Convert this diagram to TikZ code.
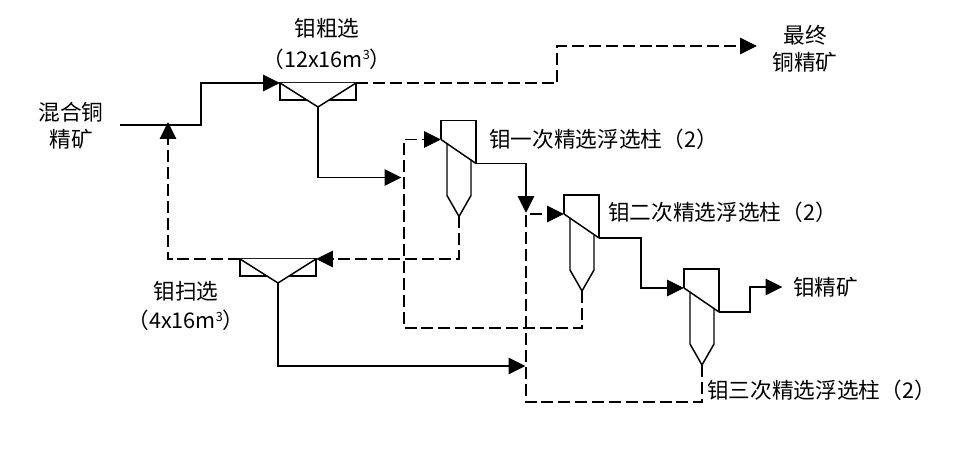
\documentclass[tikz,border=0pt]{standalone}
\usepackage{fontspec}
\setmainfont{Noto Sans CJK SC}
\usetikzlibrary{positioning,arrows.meta}

\newcommand{\cubesup}{\raisebox{5.5pt}{\fontsize{9pt}{9pt}\selectfont 3}}

\tikzset{
    flow/.style={line width=1.05pt},
    reflux/.style={line width=1.05pt, dash pattern=on 8.5pt off 3.5pt},
    tip/.style={-{Triangle[length=12pt,width=11.6pt]}},
    label/.style={inner sep=0pt, align=center, font=\fontsize{15.4pt}{19pt}\selectfont},
    sidelabel/.style={label, anchor=west},
    flotcell/.pic={
        \draw[flow] (-38,0) rectangle (38,17);
        \draw[flow, fill=white] (-38,0) -- (0,24) -- (38,0);
        \coordinate (-in) at (-38,0);
        \coordinate (-over) at (38,0);
        \coordinate (-tail) at (0,24);
    },
    flotcolumn/.pic={
        \draw[flow] (0,19) -- (0,0) -- (35,0) -- (35,43);
        \draw[flow] (6,23) -- (6,75) -- (18,96) -- (30,75) -- (30,39);
        \draw[flow] (0,19) -- (35,43);
        \coordinate (-in) at (0,19);
        \coordinate (-out) at (35,43);
        \coordinate (-tail) at (18,96);
    },
}

\begin{document}
\begin{tikzpicture}[x=0.025cm, y=-0.025cm]
    \useasboundingbox (0,0) rectangle (960,451);

    \pic (rough) at (318,83) {flotcell};
    \pic (scav) at (278,259) {flotcell};
    \pic (colone) at (441,120.5) {flotcolumn};
    \pic (coltwo) at (564,195) {flotcolumn};
    \pic (colthree) at (684,269) {flotcolumn};

    \node[label] (feedlabel) at (71,126) {混合铜\\精矿};
    \node[label] (roughlabel) at (327,44) {钼粗选\\[3pt]（12x16m\cubesup）};
    \node[label] (scavlabel) at (186,306) {钼扫选\\[2pt]（4x16m\cubesup）};
    \node[label] (conclabel) at (805,49) {最终\\铜精矿};
    \node[sidelabel] (colonelabel) at (489,139) {钼一次精选浮选柱（2）};
    \node[sidelabel] (coltwolabel) at (608,212) {钼二次精选浮选柱（2）};
    \node[sidelabel] (colthreelabel) at (707,390) {钼三次精选浮选柱（2）};
    \node[sidelabel] (molabel) at (793,287) {钼精矿};

    \coordinate (feedstart) at (120,125);
    \coordinate (feedjoin) at (168,122);
    \coordinate (topbend) at (557,46);
    \coordinate (topend) at (757,46);
    \coordinate (jointone) at (401.5,177.5);
    \coordinate (bendone) at (404,328);
    \coordinate (jointtwo) at (526,213);
    \coordinate (bendtwo) at (526,402);
    \coordinate (jointthree) at (525.5,366);
    \coordinate (moend) at (782.5,287);

    \draw[flow, tip] (feedstart) -- ++(81,0) |- (rough-in);
    \draw[flow, tip] (rough-tail) |- (jointone);
    \draw[flow, tip] (colone-out) -| (jointtwo);
    \draw[flow, tip] (scav-tail) |- (jointthree);
    \draw[flow, tip] (coltwo-out) -- ++(42,0) |- (colthree-in);
    \draw[flow, tip] (colthree-out) -- ++(31,0) |- (moend);

    \draw[reflux, tip] (rough-over) -| (topbend) -- (topend);
    \draw[reflux, tip] (colone-tail) |- (scav-over);
    \draw[reflux, tip] (scav-in) -| (feedjoin);
    \draw[reflux, tip] (coltwo-tail) |- (bendone) |- (colone-in);
    \draw[reflux, tip] (colthree-tail) |- (bendtwo) |- (coltwo-in);
\end{tikzpicture}
\end{document}
